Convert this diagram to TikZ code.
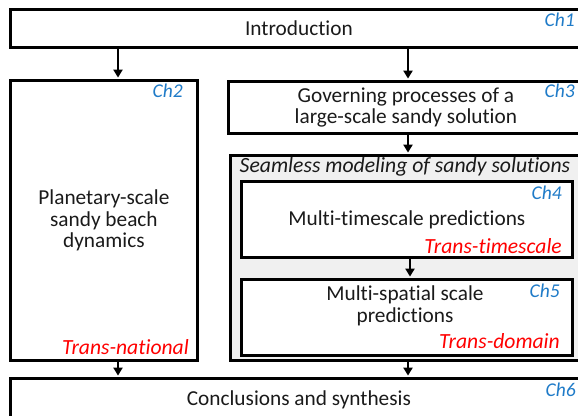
\documentclass[tikz,border=0pt]{standalone}
\usepackage{fontspec}
\setmainfont{Carlito}[Ligatures=NoCommon]
\usetikzlibrary{arrows.meta}

\definecolor{chblue}{HTML}{1F7BC8}
\definecolor{seamgray}{HTML}{F0F0F0}
\definecolor{textgray}{HTML}{1A1A1A}

\begin{document}
\begin{tikzpicture}[x=1pt,y=-1pt,
  font=\fontsize{21.3}{21.5}\selectfont,text=textgray,
  box/.style={draw=black,line width=2.8pt,inner sep=0pt,anchor=north west,align=center},
  chlab/.style={text=chblue,font=\fontsize{19.5}{20}\selectfont\itshape,anchor=east,inner sep=0pt},
  translab/.style={text=red,font=\fontsize{21.6}{21}\selectfont\itshape,anchor=east,inner sep=0pt},
  flow/.style={-{Triangle[length=8pt,width=9pt]},line width=2.2pt,shorten >=1.4pt}]
  \useasboundingbox (0,0) rectangle (578,415);
  \clip (0,0) rectangle (578,415);

  % Chapter boxes
  \node[box,minimum width=577pt,minimum height=38pt] (intro) at (9,8) {Introduction};
  \node[box,minimum width=187pt,minimum height=280pt] (ch2) at (9,79)
    {Planetary-scale\\sandy beach\\dynamics};
  \node[box,minimum width=355pt,minimum height=52pt] (ch3) at (227,80)
    {Governing processes of a\\large-scale sandy solution};

  % Seamless modeling block
  \node[box,fill=seamgray,minimum width=355pt,minimum height=205pt] (seam) at (229,154) {};
  \node[font=\fontsize{21.7}{21}\selectfont\itshape,inner sep=0pt] (seamtitle) at (405,167)
    {Seamless modeling of sandy solutions};
  \node[box,fill=white,minimum width=331pt,minimum height=76pt] (ch4) at (240,180)
    {Multi-timescale predictions};
  \node[box,fill=white,minimum width=331pt,minimum height=76pt] (ch5) at (240,278) {};
  \node[align=center,inner sep=0pt] (ch5txt) at (405,306) {Multi-spatial scale\\predictions};

  \node[box,minimum width=577pt,minimum height=42pt] (ch6) at (9,377) {Conclusions and synthesis};

  % Chapter numbers
  \node[chlab] (ch1lab) at (575,20) {Ch1};
  \node[chlab] (ch2lab) at (183,91) {Ch2};
  \node[chlab] (ch3lab) at (575,91) {Ch3};
  \node[chlab] (ch4lab) at (562,193) {Ch4};
  \node[chlab] (ch5lab) at (560,291) {Ch5};
  \node[chlab] (ch6lab) at (576,390) {Ch6};

  % Scope labels
  \node[translab] (natlab) at (189,347) {Trans-national};
  \node[translab] (timelab) at (562,246) {Trans-timescale};
  \node[translab] (domlab) at (560,341) {Trans-domain};

  % Flow arrows
  \coordinate (lcol) at (118,0);
  \coordinate (rcol) at (408,0);
  \coordinate (mcol) at (410,0);
  \draw[flow] (intro.south -| lcol) -- (ch2.north -| lcol);
  \draw[flow] (intro.south -| rcol) -- (ch3.north -| rcol);
  \draw[flow] (ch3.south -| rcol) -- (seam.north -| rcol);
  \draw[flow] (ch4.south -| mcol) -- (ch5.north -| mcol);
  \draw[flow] (ch2.south -| lcol) -- (ch6.north -| lcol);
  \draw[flow] (seam.south -| rcol) -- (ch6.north -| rcol);
\end{tikzpicture}
\end{document}
